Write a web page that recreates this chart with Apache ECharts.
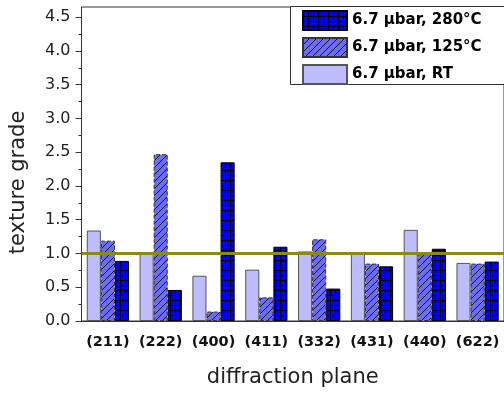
<!DOCTYPE html>
<html>
<head>
<meta charset="utf-8">
<script src="https://cdn.jsdelivr.net/npm/echarts@6/dist/echarts.min.js"></script>
<style>
  html, body { margin: 0; padding: 0; background: #fff; }
  #chart { width: 504px; height: 394px; }
</style>
</head>
<body>
<div id="chart"></div>
<script>
// Diffraction planes on the x axis
const planes = ['(211)', '(222)', '(400)', '(411)', '(332)', '(431)', '(440)', '(622)'];

// Texture grade per plane for each deposition condition
const gradeRT  = [1.34, 1.00, 0.67, 0.76, 1.03, 1.01, 1.35, 0.86];
const grade125 = [1.19, 2.47, 0.14, 0.35, 1.21, 0.85, 0.99, 0.85];
const grade280 = [0.89, 0.46, 2.35, 1.10, 0.48, 0.81, 1.07, 0.88];

// Series names
const nameRT  = '6.7 µbar, RT';
const name125 = '6.7 µbar, 125°C';
const name280 = '6.7 µbar, 280°C';

// Y axis tick values (major and minor)
const yMajorTicks = [0, 0.5, 1.0, 1.5, 2.0, 2.5, 3.0, 3.5, 4.0, 4.5];
const yMinorTicks = [0.25, 0.75, 1.25, 1.75, 2.25, 2.75, 3.25, 3.75, 4.25];

// Random-orientation reference level
const referenceLevel = 1.0;

const FONT = '"DejaVu Sans", Verdana, sans-serif';

// Blue fill with a black square grid
function gridPattern() {
  const s = 5;
  const c = document.createElement('canvas');
  c.width = s; c.height = s;
  const g = c.getContext('2d');
  g.fillStyle = '#0000ff';
  g.fillRect(0, 0, s, s);
  g.fillStyle = '#000000';
  g.fillRect(0, 0, s, 1);
  g.fillRect(0, 0, 1, s);
  return c;
}

// Medium blue fill with black forward-slash hatching
function hatchPattern() {
  const s = 7;
  const c = document.createElement('canvas');
  c.width = s; c.height = s;
  const g = c.getContext('2d');
  g.fillStyle = '#6b6bff';
  g.fillRect(0, 0, s, s);
  g.strokeStyle = '#111111';
  g.lineWidth = 1;
  g.beginPath();
  g.moveTo(0, s); g.lineTo(s, 0);
  g.moveTo(-1, 1); g.lineTo(1, -1);
  g.moveTo(s - 1, s + 1); g.lineTo(s + 1, s - 1);
  g.stroke();
  return c;
}

const chart = echarts.init(document.getElementById('chart'), null, { renderer: 'canvas' });

chart.setOption({
  animation: false,
  backgroundColor: '#ffffff',
  grid: {
    left: 81.5, top: 7, right: -2.5, bottom: 73,
    show: true, borderColor: '#333', borderWidth: 1, backgroundColor: 'transparent'
  },
  legend: {
    data: [name280, name125, nameRT],
    orient: 'vertical',
    left: 302, top: 10,
    padding: 0,
    itemWidth: 44, itemHeight: 19, itemGap: 6,
    icon: 'rect',
    textStyle: { fontFamily: FONT, fontWeight: 'bold', fontSize: 15, color: '#000' },
    selectedMode: false
  },
  graphic: [{
    type: 'rect',
    z: 3,
    shape: { x: 290.5, y: 6.5, width: 230, height: 78 },
    style: { fill: '#fff', stroke: '#333', lineWidth: 1 },
    silent: true
  }],
  xAxis: {
    type: 'category',
    data: planes,
    axisLine: { lineStyle: { color: '#333', width: 1 } },
    axisTick: { alignWithLabel: true, length: 6, lineStyle: { color: '#333' } },
    axisLabel: {
      interval: 0, hideOverlap: false,
      fontFamily: FONT, fontWeight: 'bold', fontSize: 14.5, color: '#111', margin: 14
    },
    name: 'diffraction plane',
    nameLocation: 'middle',
    nameGap: 46,
    nameTextStyle: { fontFamily: FONT, fontSize: 21, color: '#222' }
  },
  yAxis: [{
    type: 'value',
    min: 0, max: 4.65, interval: 0.5,
    axisLine: { show: true, lineStyle: { color: '#333', width: 1 } },
    axisTick: { show: true, length: 6, customValues: yMajorTicks, lineStyle: { color: '#333' } },
    axisLabel: {
      customValues: yMajorTicks,
      formatter: v => Number(v).toFixed(1),
      fontFamily: FONT, fontSize: 16, color: '#222', margin: 11
    },
    splitLine: { show: false },
    name: 'texture grade',
    nameLocation: 'middle',
    nameGap: 52,
    nameTextStyle: { fontFamily: FONT, fontSize: 21, color: '#222', padding: [0, 37, 0, 0] }
  }, {
    type: 'value',
    position: 'left',
    min: 0, max: 4.65, interval: 0.5,
    axisLine: { show: false },
    axisTick: { show: true, length: 3, customValues: yMinorTicks, lineStyle: { color: '#333' } },
    axisLabel: { show: false },
    splitLine: { show: false }
  }],
  series: [{
    name: nameRT,
    type: 'bar',
    data: gradeRT,
    barGap: '0%',
    barCategoryGap: '20%',
    itemStyle: { color: '#bcbcff', borderColor: '#555', borderWidth: 1 }
  }, {
    name: name125,
    type: 'bar',
    data: grade125,
    barGap: '0%',
    barCategoryGap: '20%',
    itemStyle: {
      color: { image: hatchPattern(), repeat: 'repeat' },
      borderColor: '#333', borderWidth: 1, borderType: 'dashed'
    }
  }, {
    name: name280,
    type: 'bar',
    data: grade280,
    barGap: '0%',
    barCategoryGap: '20%',
    itemStyle: {
      color: { image: gridPattern(), repeat: 'repeat' },
      borderColor: '#000', borderWidth: 1
    },
    markLine: {
      silent: true,
      symbol: 'none',
      label: { show: false },
      lineStyle: { color: '#8b8b14', width: 3, type: 'solid' },
      data: [{ yAxis: referenceLevel }]
    }
  }]
});
</script>
</body>
</html>
